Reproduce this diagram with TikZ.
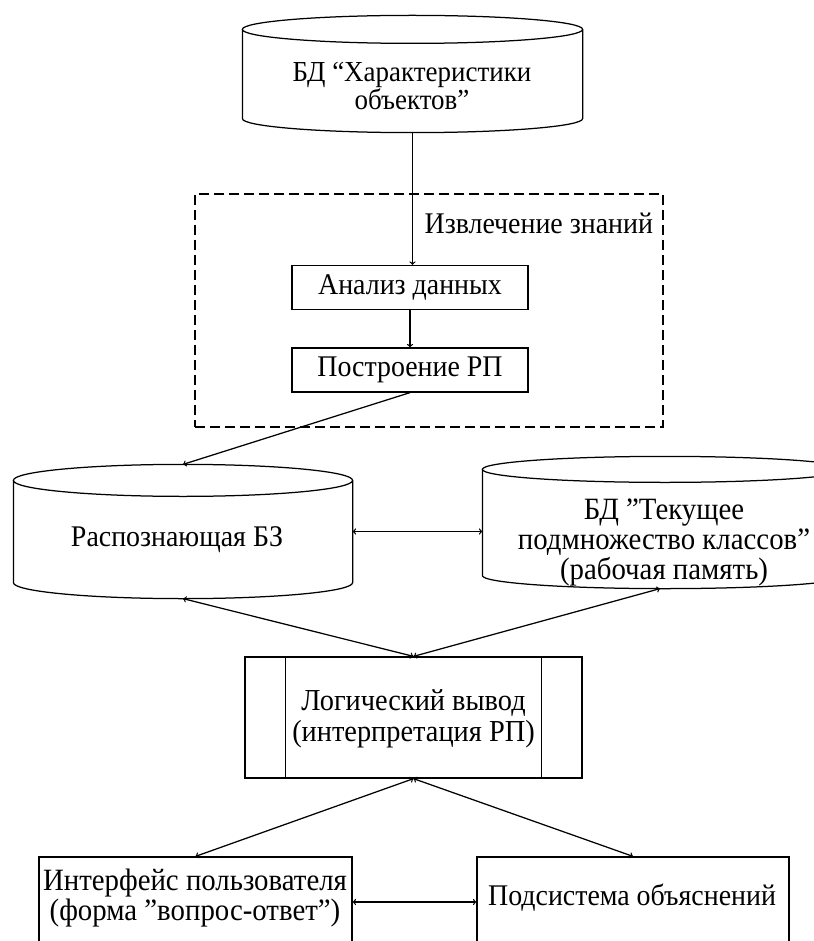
\documentclass[tikz,border=0pt]{standalone}
\usepackage{fontspec}
\setmainfont{Liberation Serif}[FakeStretch=0.93]
\usetikzlibrary{calc}
% cylinder outline round an empty node: name, cap half-height
\newcommand{\dbcyl}[2]{%
  \draw let \p1=(#1.north west), \p2=(#1.south east), \n1={(\x2-\x1)/2} in
    (\x1,\y1-#2) -- (\x1,\y2+#2)
    arc[start angle=180, end angle=360, x radius=\n1, y radius=#2]
    -- (\x2,\y1-#2)
    arc[start angle=0, end angle=360, x radius=\n1, y radius=#2];}

\begin{document}
\begin{tikzpicture}[x=1pt, y=-1pt, line width=1.25pt,
    dbarea/.style={inner sep=0pt},
    txt/.style={align=center, inner sep=0pt, font=\fontsize{30}{30}\selectfont},
    procbox/.style={draw, minimum width=236pt, minimum height=44pt, inner sep=0pt,
      font=\fontsize{30}{30}\selectfont},
    framebox/.style={draw, inner sep=0pt},
    dashedbox/.style={draw, dash pattern=on 10pt off 5pt, inner sep=0pt}]
      \useasboundingbox (0,0) rectangle (813,941);

      \node[dbarea, minimum width=339pt, minimum height=116pt] (chardb) at (412.5,74) {};
      \node[txt, font=\fontsize{29}{28}\selectfont] (chardbtxt) at (412,86) {БД “Характеристики\\объектов”};

      \node[dashedbox, minimum width=468pt, minimum height=233pt] (extract) at (429,310.5) {};
      \node[txt, anchor=west] (extracttxt) at (424,223) {Извлечение знаний};
      \node[procbox] (anal) at (410,287.5) {Анализ данных};
      \node[procbox] (build) at (410,370) {Построение РП};

      \node[dbarea, minimum width=338pt, minimum height=133pt] (raspbz) at (183,531.5) {};
      \node[txt] (raspbztxt) at (177,540) {Распознающая БЗ};
      \node[dbarea, minimum width=364pt, minimum height=131pt] (curdb) at (665,522.5) {};
      \node[txt, font=\fontsize{31}{30}\selectfont] (curdbtxt) at (664,542) {БД ”Текущее\\подмножество классов”\\(рабочая память)};

      \node[framebox, minimum width=337pt, minimum height=121pt] (logic) at (413.5,717.5) {};
      \node[txt, font=\fontsize{30.5}{31}\selectfont] (logictxt) at (413.5,719) {Логический вывод\\(интерпретация РП)};

      \node[framebox, minimum width=313pt, minimum height=110pt] (iface) at (195.5,912) {};
      \node[txt, font=\fontsize{31}{30}\selectfont] (ifacetxt) at (195,898) {Интерфейс пользователя\\(форма ”вопрос-ответ”)};
      \node[framebox, minimum width=312pt, minimum height=110pt] (expl) at (633,912) {};
      \node[txt] (expltxt) at (632,898) {Подсистема объяснений};

      \dbcyl{chardb}{14pt}
      \dbcyl{raspbz}{16pt}
      \dbcyl{curdb}{13pt}
      \draw ([xshift=41pt]logic.north west) -- ([xshift=41pt]logic.south west);
      \draw ([xshift=-41pt]logic.north east) -- ([xshift=-41pt]logic.south east);

      \draw[->] (chardb.south) -- (chardb.south |- anal.north);
      \draw[->] (anal) -- (build);
      \draw[->] (build.south) -- (raspbz.north);
      \draw[<->] (raspbz.east) -- (raspbz.east -| curdb.west);
      \draw[<->] (raspbz.south) -- (logic.north);
      \draw[<->] ([xshift=-5pt]curdb.south) -- (logic.north);
      \draw[<->] (logic.south) -- (iface.north);
      \draw[<->] (logic.south) -- (expl.north);
      \draw[<->] ([yshift=10pt]iface.east) -- ([yshift=10pt]expl.west);
    \end{tikzpicture}
\end{document}
